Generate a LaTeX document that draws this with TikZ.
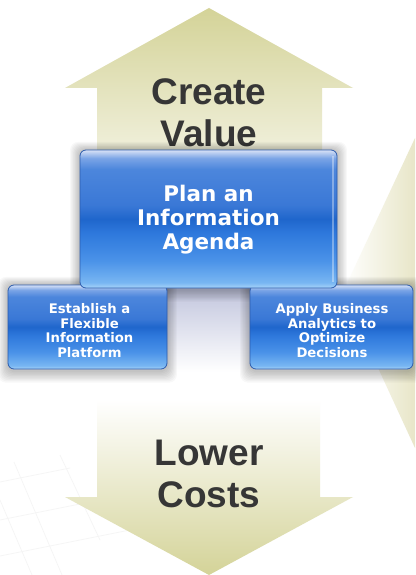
\documentclass[tikz,border=0pt]{standalone}
\usepackage{fontspec}
\setmainfont{Liberation Sans}
\newfontfamily\boxfont{DejaVu Sans}
\usetikzlibrary{calc}
\definecolor{beige}{HTML}{D4D398}
\definecolor{beigemid}{HTML}{EEEDD5}
\definecolor{tribeige}{HTML}{E8E6C8}
\definecolor{txtgray}{HTML}{363636}
\definecolor{lav}{HTML}{BFC3DC}
\definecolor{bdr}{HTML}{2C5CAE}
\definecolor{bT}{HTML}{D8E2F6}
\definecolor{bA}{HTML}{7AA4E6}
\definecolor{bB}{HTML}{4C86DC}
\definecolor{bC}{HTML}{3A78D6}
\definecolor{bD}{HTML}{1F66CC}
\definecolor{bE}{HTML}{2E78DC}
\definecolor{bF}{HTML}{4A92E8}
\definecolor{bG}{HTML}{78B6F2}
\definecolor{bH}{HTML}{A8D4F8}
\pgfdeclareverticalshading{boxshade}{100bp}{color(0bp)=(bH); color(25bp)=(bH); color(27bp)=(bG); color(35bp)=(bF); color(45bp)=(bE); color(50bp)=(bD); color(55bp)=(bC); color(68bp)=(bB); color(72bp)=(bA); color(75bp)=(bT); color(100bp)=(bT)}
\tikzset{
  bluebox/.style={draw=bdr, line width=0.8pt, rounded corners=6pt, shading=boxshade},
  bigtxt/.style={font=\fontsize{37}{42}\selectfont\bfseries, text=txtgray, align=center, inner sep=0pt},
  maintxt/.style={font=\boxfont\fontsize{21.5}{24}\selectfont\bfseries, text=white, align=center, inner sep=0pt},
  smalltxt/.style={font=\boxfont\fontsize{13.2}{14.7}\selectfont\bfseries, text=white, align=center, inner sep=0pt},
  gridline/.style={draw=gray!8, line width=0.7pt}
}
\newcommand{\boxshadow}[4]{%
  \foreach \k in {1,...,9}{
    \fill[black, opacity=0.026, rounded corners=8pt] ($(#1,#2)+(-\k*1.1,-\k*0.9)$) rectangle ($(#3,#4)+(\k*1.1,\k*1.3+2)$);
  }}
\begin{document}
\begin{tikzpicture}[x=1pt,y=-1pt]
\useasboundingbox (0,0) rectangle (415,575);
\fill[white] (0,0) rectangle (415,575);
% faint grid
\draw[gridline] (0,482) -- (70,468);
\draw[gridline] (0,520) -- (110,498);
\draw[gridline] (0,556) -- (140,528);
\draw[gridline] (14,462) -- (62,575);
\draw[gridline] (0,500) -- (32,575);
\draw[gridline] (60,455) -- (100,540);
% right triangle
\shade[left color=white, right color=tribeige] (343,292) -- (415,138) -- (415,448) -- cycle;
% up arrow
\shade[top color=beige, middle color=beigemid, bottom color=white]
  (209,8) -- (353,88) -- (322,88) -- (322,230) -- (97,230) -- (97,88) -- (65,88) -- cycle;
% down arrow
\shade[top color=white, middle color=beigemid, bottom color=beige]
  (97,400) -- (320,400) -- (320,497) -- (353,497) -- (209,575) -- (65,497) -- (97,497) -- cycle;
% big labels
\node[bigtxt] (create) at (209,113) {Create\\Value};
\node[bigtxt] (lower) at (209,473.5) {Lower\\Costs};
% lavender haze between the lower boxes
\shade[top color=lav, bottom color=white] (166,285) rectangle (251,372);
% shadows
\boxshadow{8}{285}{167}{369}
\boxshadow{250}{285}{413}{369}
\boxshadow{80}{150}{337}{288}
% boxes
\path[bluebox] (8,285) rectangle (167,369);
\path[bluebox] (250,285) rectangle (413,369);
\path[bluebox] (80,150) rectangle (337,288);
% highlight on right edge
\draw[white, opacity=0.35, line width=1.2pt, rounded corners=4pt] (333,156) -- (333,282);
% texts
\node[maintxt] (plan) at (208.5,220) {Plan an\\Information\\Agenda};
\node[smalltxt] (establish) at (89.5,330.5) {Establish a\\Flexible\\Information\\Platform};
\node[smalltxt] (apply) at (332,330.5) {Apply Business\\Analytics to\\Optimize\\Decisions};
\end{tikzpicture}
\end{document}
